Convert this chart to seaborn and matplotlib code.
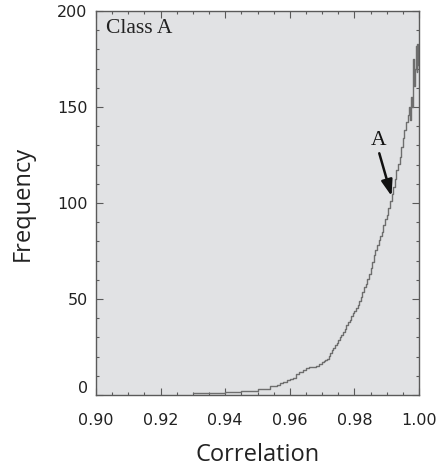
import numpy as np
import pandas as pd
import matplotlib
matplotlib.use("Agg")
import matplotlib.pyplot as plt
import matplotlib.transforms as mtransforms
from matplotlib.ticker import MultipleLocator
import seaborn as sns

# ---- data ----
# counts per 0.001-wide bin, left edges 0.930 ... 0.969
coarse_start = 0.930
coarse_counts = [0.8, 0.8, 0.8, 0.8, 0.8, 0.8, 0.8, 0.8, 0.8, 0.8,
                 1.7, 1.7, 1.7, 1.7, 1.7, 2.0, 2.0, 2.0, 2.0, 2.0,
                 3.3, 3.3, 3.3, 3.3, 4.6, 4.6, 5.4, 6.4, 6.9, 7.8,
                 8.2, 8.8, 10.9, 12.0, 13.0, 14.2, 14.4, 14.7, 15.2, 16.4]
# counts per 0.0005-wide bin, left edges 0.9700 ... 0.9965
medium_start = 0.970
medium_counts = [17.0, 17.6, 18.2, 19.0, 20.3, 21.8, 23.3, 24.6, 26.0, 27.3,
                 28.6, 30.0, 31.5, 32.8, 34.5, 36.2, 37.8, 39.3, 41.0, 42.5,
                 44.0, 45.3, 46.8, 48.8, 51.0, 53.5, 56.0, 58.0, 60.5, 63.0,
                 66.0, 69.5, 73.0, 75.5, 78.0, 80.5, 83.0, 85.0, 88.5, 91.5,
                 94.0, 97.5, 101.0, 104.5, 108.5, 112.5, 117.0, 120.5, 124.0, 129.0,
                 134.0, 138.0, 142.0, 146.0]
# counts per 0.00025-wide bin, 0.997 ... 1.000
fine_start = 0.997
fine_counts = [150, 143, 155, 150, 165, 175, 161, 170, 182, 168, 183, 172]

x_ticks = [0.90, 0.92, 0.94, 0.96, 0.98, 1.00]
x_tick_labels = ["0.90", "0.92", "0.94", "0.96", "0.98", "1.00"]
y_ticks = [0, 50, 100, 150, 200]
panel_label = "Class A"
marker_label = "A"
marker_text_pos = (0.9874, 132.8)
arrow_start = (0.9877, 125.9)
arrow_tip = (0.9915, 103.6)

# ---- build histogram table ----
def make_edges(start, width, n):
    return list(np.round(start + width * np.arange(n + 1), 5))

edges = (make_edges(coarse_start, 0.001, len(coarse_counts))[:-1]
         + make_edges(medium_start, 0.0005, len(medium_counts))[:-1]
         + make_edges(fine_start, 0.00025, len(fine_counts)))
edges = [float(e) for e in edges]
counts = np.array(coarse_counts + medium_counts + fine_counts, dtype=float)
centers = (np.array(edges[:-1]) + np.array(edges[1:])) / 2
df = pd.DataFrame({"correlation": centers, "count": counts})

sns.set_style("ticks")
plt.rcParams["font.family"] = ["DejaVu Sans"]

fig = plt.figure(figsize=(4.41, 4.72), dpi=100)
ax = fig.add_axes([96 / 441, 1 - 395 / 472, (419 - 96) / 441, (395 - 11) / 472])
ax.set_facecolor("#e1e2e4")

sns.histplot(data=df, x="correlation", weights="count", bins=edges,
             element="step", fill=False, color="#6e6e6e", linewidth=1.0, ax=ax)

ax.set_xlim(0.90, 1.00)
ax.set_ylim(0, 200)
ax.set_xticks(x_ticks)
ax.set_xticklabels(x_tick_labels)
ax.set_yticks(y_ticks)
ax.xaxis.set_minor_locator(MultipleLocator(0.005))
ax.yaxis.set_minor_locator(MultipleLocator(10))

for s in ax.spines.values():
    s.set_color("#5a5a5a")
    s.set_linewidth(1.0)
ax.tick_params(which="both", direction="in", top=True, right=True,
               color="#5a5a5a", width=0.8)
ax.tick_params(which="major", length=5)
ax.tick_params(which="minor", length=2.5)
ax.tick_params(axis="x", which="major", pad=13, labelsize=11.5, labelcolor="#222222")
ax.tick_params(axis="y", which="major", pad=6, labelsize=11.5, labelcolor="#222222")

ax.set_xlabel("Correlation", fontsize=17, family=["Open Sans", "DejaVu Sans"],
              color="#222222", labelpad=11)
ax.set_ylabel("Frequency", fontsize=17, family=["Open Sans", "DejaVu Sans"],
              color="#222222", labelpad=16)

ax.text(0.03, 0.955, panel_label, transform=ax.transAxes, ha="left", va="center",
        fontsize=15.5, family=["Liberation Serif", "DejaVu Serif"], color="#222222")

ax.text(marker_text_pos[0], marker_text_pos[1], marker_label, ha="center", va="center",
        fontsize=15.5, family=["Liberation Serif", "DejaVu Serif"], color="#111111")
ax.annotate("", xy=arrow_tip, xytext=arrow_start,
            arrowprops=dict(arrowstyle="-|>,head_length=0.8,head_width=0.28",
                            mutation_scale=12, color="#111111", lw=1.8,
                            shrinkA=0, shrinkB=0))

fig.canvas.draw()
for lbl in ax.get_yticklabels():
    if lbl.get_text() == "0":
        lbl.set_transform(lbl.get_transform() +
                          mtransforms.ScaledTranslation(0, 6 / 72, fig.dpi_scale_trans))

fig.savefig("out.png", dpi=100)
